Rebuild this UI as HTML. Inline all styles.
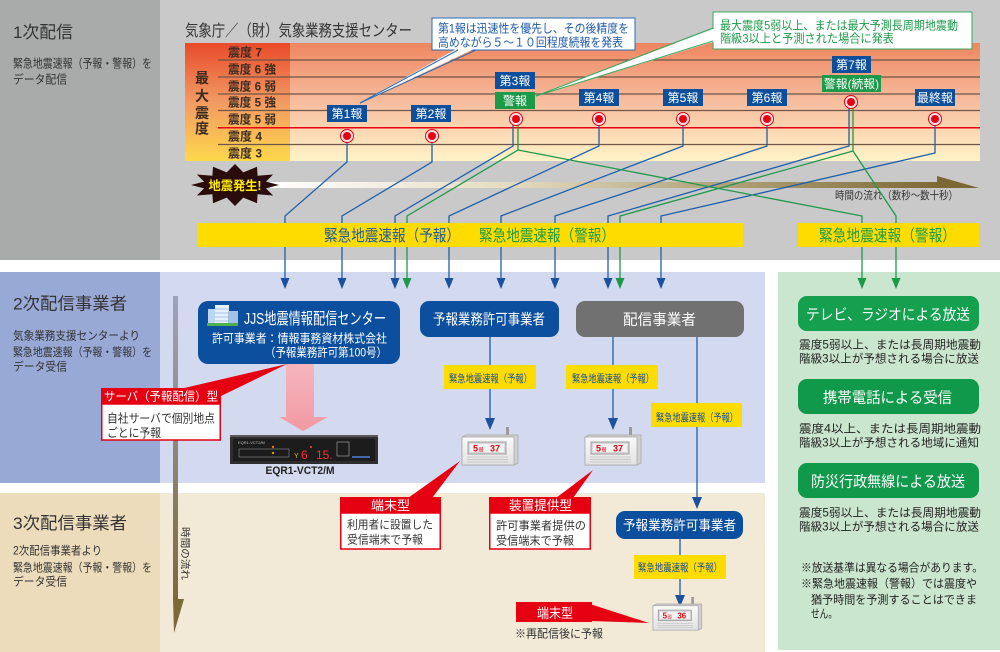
<!DOCTYPE html>
<html><head><meta charset="utf-8">
<style>
html,body{margin:0;padding:0;background:#fff;}
svg{display:block;font-family:"Liberation Sans","Noto Sans CJK JP",sans-serif;}
</style></head><body>
<svg width="1000" height="652" viewBox="0 0 1000 652" xmlns="http://www.w3.org/2000/svg">
<defs>
 <linearGradient id="chartR" x1="0" y1="0" x2="0" y2="1">
  <stop offset="0" stop-color="#ee8660"/>
  <stop offset="0.5" stop-color="#f7bd9e"/>
  <stop offset="1" stop-color="#fff3c8"/>
 </linearGradient>
 <linearGradient id="chartL" x1="0" y1="0" x2="0" y2="1">
  <stop offset="0" stop-color="#e84b2a"/>
  <stop offset="0.5" stop-color="#f39a62"/>
  <stop offset="1" stop-color="#fdd84c"/>
 </linearGradient>
 <linearGradient id="timeBar" x1="0" y1="0" x2="1" y2="0">
  <stop offset="0" stop-color="#ffffff"/>
  <stop offset="0.35" stop-color="#e6dcc2"/>
  <stop offset="1" stop-color="#7d6a35"/>
 </linearGradient>
 <linearGradient id="vTime" x1="0" y1="0" x2="0" y2="1">
  <stop offset="0" stop-color="#9ea3bb"/>
  <stop offset="1" stop-color="#7b6a38"/>
 </linearGradient>
 <linearGradient id="pink" x1="0" y1="0" x2="0" y2="1">
  <stop offset="0" stop-color="#f6b6bc"/>
  <stop offset="1" stop-color="#f199a3"/>
 </linearGradient>
 <linearGradient id="dev" x1="0" y1="0" x2="0" y2="1">
  <stop offset="0" stop-color="#fafafa"/>
  <stop offset="1" stop-color="#e2e2e2"/>
 </linearGradient>
</defs>

<!-- backgrounds -->
<rect x="0" y="0" width="1000" height="260" fill="#c9c9c9"/>
<rect x="0" y="0" width="160" height="260" fill="#a9aaaa"/>
<rect x="0" y="272" width="160" height="211" fill="#98a9d6"/>
<rect x="160" y="272" width="605" height="211" fill="#d3d9ee"/>
<rect x="0" y="493" width="160" height="159" fill="#ecdcbc"/>
<rect x="160" y="493" width="605" height="159" fill="#f2e9d6"/>
<rect x="778" y="272" width="222" height="378" fill="#cbe6cf"/>

<!-- section 1 left -->
<text x="13" y="38" font-size="17" fill="#333" textLength="60" lengthAdjust="spacingAndGlyphs">1次配信</text>
<text x="13" y="67.5" font-size="12" fill="#333" textLength="139" lengthAdjust="spacingAndGlyphs">緊急地震速報（予報・警報）を</text>
<text x="13" y="83.5" font-size="12" fill="#333" textLength="54" lengthAdjust="spacingAndGlyphs">データ配信</text>

<!-- title -->
<text x="185" y="36" font-size="16" fill="#333" textLength="227" lengthAdjust="spacingAndGlyphs">気象庁／（財）気象業務支援センター</text>

<!-- chart -->
<rect x="185" y="43" width="795" height="118" fill="url(#chartR)"/>
<rect x="185" y="43" width="105" height="118" fill="url(#chartL)"/>
<g stroke="#6e5649" stroke-width="1.2">
 <line x1="218" y1="60" x2="980" y2="60"/>
 <line x1="218" y1="77" x2="980" y2="77"/>
 <line x1="218" y1="94" x2="980" y2="94"/>
 <line x1="218" y1="110.5" x2="980" y2="110.5"/>
 <line x1="218" y1="144.5" x2="980" y2="144.5"/>
</g>
<line x1="218" y1="127.7" x2="980" y2="127.7" stroke="#e60012" stroke-width="1.5"/>
<g font-size="12" font-weight="bold" fill="#3b2c22">
 <text x="228" y="56.5" textLength="34" lengthAdjust="spacingAndGlyphs">震度 7</text>
 <text x="228" y="73.5" textLength="48" lengthAdjust="spacingAndGlyphs">震度 6 強</text>
 <text x="228" y="90.5" textLength="48" lengthAdjust="spacingAndGlyphs">震度 6 弱</text>
 <text x="228" y="106.5" textLength="48" lengthAdjust="spacingAndGlyphs">震度 5 強</text>
 <text x="228" y="123.5" textLength="48" lengthAdjust="spacingAndGlyphs">震度 5 弱</text>
 <text x="228" y="140.5" textLength="34" lengthAdjust="spacingAndGlyphs">震度 4</text>
 <text x="228" y="157.5" textLength="34" lengthAdjust="spacingAndGlyphs">震度 3</text>
</g>
<g font-size="14" font-weight="bold" fill="#3b2c22" text-anchor="middle">
 <text x="202" y="83">最</text>
 <text x="202" y="101">大</text>
 <text x="202" y="118">震</text>
 <text x="202" y="133.5">度</text>
</g>

<!-- bubbles -->
<rect x="432" y="18" width="203" height="32" fill="#fff" stroke="#2a6ab5" stroke-width="1"/>
<polygon points="458,48 476,48 360,103" fill="#fff"/>
<line x1="360" y1="103" x2="458" y2="50" stroke="#2a6ab5" stroke-width="1"/>
<line x1="360" y1="103" x2="476" y2="50" stroke="#2a6ab5" stroke-width="1"/>
<text x="438" y="32.5" font-size="12" fill="#1d5aa8" textLength="191" lengthAdjust="spacingAndGlyphs">第1報は迅速性を優先し、その後精度を</text>
<text x="438" y="46.5" font-size="12" fill="#1d5aa8" textLength="185" lengthAdjust="spacingAndGlyphs">高めながら５～１０回程度続報を発表</text>

<rect x="713" y="12" width="259" height="37" fill="#fff" stroke="#3aa860" stroke-width="1"/>
<polygon points="716,28 716,41 536,96" fill="#fff"/>
<line x1="536" y1="96" x2="713" y2="28" stroke="#3aa860" stroke-width="1"/>
<line x1="536" y1="96" x2="713" y2="41" stroke="#3aa860" stroke-width="1"/>
<text x="720" y="29.5" font-size="12" fill="#1e9a4a" textLength="238" lengthAdjust="spacingAndGlyphs">最大震度5弱以上、または最大予測長周期地震動</text>
<text x="720" y="42.5" font-size="12" fill="#1e9a4a" textLength="174" lengthAdjust="spacingAndGlyphs">階級3以上と予測された場合に発表</text>

<!-- time bar -->
<rect x="270" y="182" width="667" height="6" fill="url(#timeBar)"/>
<polygon points="937,176 979,188 937,188" fill="#7b6832"/>
<text x="835" y="199" font-size="11" fill="#333" textLength="123" lengthAdjust="spacingAndGlyphs">時間の流れ（数秒～数十秒）</text>

<!-- starburst -->
<polygon points="279,185 265.9,188.4 273.1,195.5 257.6,194.2 257,203.2 243.3,197.6 235,206 226.7,197.6 213,203.2 212.4,194.2 196.9,195.5 204.1,188.4 191,185 204.1,181.6 196.9,174.5 212.4,175.8 213,166.8 226.7,172.4 235,164 243.3,172.4 257,166.8 257.6,175.8 273.1,174.5 265.9,181.6" fill="#2a0c0c"/>
<text x="235" y="190" font-size="12.5" font-weight="bold" fill="#ffee00" text-anchor="middle" textLength="53" lengthAdjust="spacingAndGlyphs">地震発生!</text>

<!-- connectors -->
<g fill="none" stroke="#2060aa" stroke-width="1.3">
 <polyline points="347,136 347,162 285,216 285,280"/>
 <polyline points="432,136 432,162 342,216 342,280"/>
 <polyline points="513,119 513,146 395,216 395,280"/>
 <polyline points="599,119 599,146 449,216 449,280"/>
 <polyline points="683,119 683,146 501,216 501,280"/>
 <polyline points="767,119 767,146 555,216 555,280"/>
 <polyline points="849,102 849,146 608,216 608,280"/>
 <polyline points="935,119 935,153 661,216 661,280"/>
</g>
<g fill="none" stroke="#1e9a4a" stroke-width="1.3">
 <polyline points="518,119 518,150 407,216 407,280"/>
 <polyline points="518,150 862,216 862,280"/>
 <polyline points="853,102 853,151 620,216 620,280"/>
 <polyline points="853,151 896,216 896,280"/>
</g>

<!-- circles -->
<g>
 <circle cx="347" cy="136" r="6.5" fill="#fde3e3" stroke="#e60012" stroke-width="1"/><circle cx="347" cy="136" r="4" fill="#e60012"/>
 <circle cx="432" cy="136" r="6.5" fill="#fde3e3" stroke="#e60012" stroke-width="1"/><circle cx="432" cy="136" r="4" fill="#e60012"/>
 <circle cx="516" cy="119" r="6.5" fill="#fde3e3" stroke="#e60012" stroke-width="1"/><circle cx="516" cy="119" r="4" fill="#e60012"/>
 <circle cx="599" cy="119" r="6.5" fill="#fde3e3" stroke="#e60012" stroke-width="1"/><circle cx="599" cy="119" r="4" fill="#e60012"/>
 <circle cx="683" cy="119" r="6.5" fill="#fde3e3" stroke="#e60012" stroke-width="1"/><circle cx="683" cy="119" r="4" fill="#e60012"/>
 <circle cx="767" cy="119" r="6.5" fill="#fde3e3" stroke="#e60012" stroke-width="1"/><circle cx="767" cy="119" r="4" fill="#e60012"/>
 <circle cx="851" cy="102" r="6.5" fill="#fde3e3" stroke="#e60012" stroke-width="1"/><circle cx="851" cy="102" r="4" fill="#e60012"/>
 <circle cx="935" cy="119" r="6.5" fill="#fde3e3" stroke="#e60012" stroke-width="1"/><circle cx="935" cy="119" r="4" fill="#e60012"/>
</g>

<!-- report boxes -->
<g fill="#0e4f9c">
 <rect x="327" y="105" width="40" height="17"/>
 <rect x="411" y="105" width="40" height="17"/>
 <rect x="495" y="72" width="40" height="17"/>
 <rect x="579" y="89" width="40" height="17"/>
 <rect x="663" y="89" width="40" height="17"/>
 <rect x="747" y="89" width="40" height="17"/>
 <rect x="832" y="56" width="39" height="17"/>
 <rect x="915" y="89" width="40" height="17"/>
</g>
<rect x="495" y="92" width="40" height="17" fill="#1b9a48"/>
<rect x="822" y="75" width="59" height="17" fill="#1b9a48"/>
<g font-size="12" fill="#fff" text-anchor="middle">
 <text x="347" y="118">第1報</text>
 <text x="431" y="118">第2報</text>
 <text x="515" y="85">第3報</text>
 <text x="515" y="105">警報</text>
 <text x="599" y="102">第4報</text>
 <text x="683" y="102">第5報</text>
 <text x="767" y="102">第6報</text>
 <text x="851.5" y="69">第7報</text>
 <text x="851.5" y="88" textLength="55" lengthAdjust="spacingAndGlyphs">警報(続報)</text>
 <text x="935" y="102">最終報</text>
</g>

<!-- yellow bands -->
<rect x="197" y="223" width="546" height="24" fill="#ffdc00"/>
<rect x="798" y="223" width="181" height="24" fill="#ffdc00"/>
<text x="324" y="241" font-size="16" fill="#1f5aa6" textLength="136" lengthAdjust="spacingAndGlyphs">緊急地震速報（予報）</text>
<text x="479" y="241" font-size="16" fill="#1f9a48" textLength="136" lengthAdjust="spacingAndGlyphs">緊急地震速報（警報）</text>
<text x="819" y="241" font-size="16" fill="#1f9a48" textLength="137" lengthAdjust="spacingAndGlyphs">緊急地震速報（警報）</text>

<!-- arrowheads into section 2 -->
<g fill="#1a52a0">
 <polygon points="280.5,278 289.5,278 285,289"/>
 <polygon points="337.5,278 346.5,278 342,289"/>
 <polygon points="390.5,278 399.5,278 395,289"/>
 <polygon points="444.5,278 453.5,278 449,289"/>
 <polygon points="496.5,278 505.5,278 501,289"/>
 <polygon points="550.5,278 559.5,278 555,289"/>
 <polygon points="603.5,278 612.5,278 608,289"/>
 <polygon points="656.5,278 665.5,278 661,289"/>
</g>
<g fill="#1a9a48">
 <polygon points="402.5,278 411.5,278 407,289"/>
 <polygon points="615.5,278 624.5,278 620,289"/>
 <polygon points="857.5,278 866.5,278 862,289"/>
 <polygon points="891.5,278 900.5,278 896,289"/>
</g>

<!-- section 2 left -->
<text x="13" y="309.5" font-size="17" fill="#333" textLength="114" lengthAdjust="spacingAndGlyphs">2次配信事業者</text>
<text x="13" y="339.3" font-size="11.5" fill="#333" textLength="127" lengthAdjust="spacingAndGlyphs">気象業務支援センターより</text>
<text x="13" y="356" font-size="11.5" fill="#333" textLength="139" lengthAdjust="spacingAndGlyphs">緊急地震速報（予報・警報）を</text>
<text x="13" y="370.3" font-size="11.5" fill="#333" textLength="54" lengthAdjust="spacingAndGlyphs">データ受信</text>

<!-- section 3 left -->
<text x="13" y="529" font-size="17" fill="#333" textLength="114" lengthAdjust="spacingAndGlyphs">3次配信事業者</text>
<text x="13" y="554.3" font-size="11.5" fill="#333" textLength="89" lengthAdjust="spacingAndGlyphs">2次配信事業者より</text>
<text x="13" y="571.3" font-size="11.5" fill="#333" textLength="139" lengthAdjust="spacingAndGlyphs">緊急地震速報（予報・警報）を</text>
<text x="13" y="585.3" font-size="11.5" fill="#333" textLength="54" lengthAdjust="spacingAndGlyphs">データ受信</text>

<!-- vertical time arrow -->
<rect x="173" y="296" width="5" height="304" fill="url(#vTime)"/>
<polygon points="173,599 184,599 174,633" fill="#7b6a38"/>
<text transform="translate(181.5,527) rotate(90)" font-size="10" fill="#333" textLength="53" lengthAdjust="spacingAndGlyphs">時間の流れ</text>

<!-- JJS box -->
<rect x="198" y="301" width="202" height="63" rx="10" fill="#0b4f9e"/>
<rect x="208" y="309" width="12" height="15" fill="#bcd6ef"/>
<rect x="215" y="305" width="14" height="19" fill="#e6f0fa"/>
<rect x="228" y="311" width="10" height="13" fill="#9fc2e6"/>
<g stroke="#7fa6d0" stroke-width="0.6"><line x1="215" y1="309" x2="229" y2="309"/><line x1="215" y1="313" x2="229" y2="313"/><line x1="215" y1="317" x2="229" y2="317"/><line x1="215" y1="321" x2="229" y2="321"/></g>
<rect x="207" y="323" width="31" height="3" fill="#4caf50"/>
<text x="244" y="324" font-size="16" fill="#fff" textLength="142" lengthAdjust="spacingAndGlyphs">JJS地震情報配信センター</text>
<text x="212" y="342.5" font-size="12" fill="#fff" textLength="175" lengthAdjust="spacingAndGlyphs">許可事業者：情報事務資材株式会社</text>
<text x="265" y="356.5" font-size="12" fill="#fff" textLength="122" lengthAdjust="spacingAndGlyphs">（予報業務許可第100号）</text>

<!-- pink arrow -->
<polygon points="286,364 314,364 314,417 328,417 303,431 279,417 286,417" fill="url(#pink)"/>

<!-- red wedge & server callout -->
<polygon points="287,364 180,389 221,396" fill="#e50012"/>
<rect x="101" y="388" width="120" height="16" fill="#e50012"/>
<text x="104" y="400.5" font-size="12" fill="#fff" textLength="114" lengthAdjust="spacingAndGlyphs">サーバ（予報配信）型</text>
<rect x="101.75" y="404" width="118.5" height="36" fill="#fff" stroke="#e50012" stroke-width="1.5"/>
<text x="107" y="422.5" font-size="12" fill="#333" textLength="108" lengthAdjust="spacingAndGlyphs">自社サーバで個別地点</text>
<text x="107" y="437" font-size="12" fill="#333" textLength="54" lengthAdjust="spacingAndGlyphs">ごとに予報</text>

<!-- EQR device -->
<rect x="230" y="435" width="148" height="29" fill="#2e2e2e"/>
<rect x="230" y="435" width="148" height="2" fill="#5a5a5a"/>
<rect x="233" y="439" width="142" height="22" fill="#1c1c1c"/>
<text x="238" y="444" font-size="4" fill="#bbb">EQR1-VCT2/M</text>
<rect x="239" y="449" width="50" height="8" fill="none" stroke="#8a8a8a" stroke-width="0.6"/>
<circle cx="273" cy="447" r="1.2" fill="#ff6a00"/>
<circle cx="273" cy="453" r="1.2" fill="#caa000"/>
<text x="294" y="458" font-size="7" fill="#d8c000">Y</text>
<text x="301" y="459" font-size="12" fill="#ff2d2d">6</text>
<circle cx="311" cy="447" r="1" fill="#ff4a2a"/>
<text x="316" y="459" font-size="12" fill="#ff2d2d">15.</text>
<rect x="337" y="442" width="12" height="14" fill="none" stroke="#9a9a9a" stroke-width="0.7"/>
<rect x="352" y="456" width="18" height="2" fill="#4466aa"/>
<text x="300" y="474" font-size="11" font-weight="bold" fill="#222" text-anchor="middle" textLength="69" lengthAdjust="spacingAndGlyphs">EQR1-VCT2/M</text>

<!-- middle boxes -->
<rect x="420" y="301" width="139" height="36" rx="9" fill="#0b4f9e"/>
<text x="433" y="324.5" font-size="14.5" fill="#fff" textLength="112" lengthAdjust="spacingAndGlyphs">予報業務許可事業者</text>
<rect x="576" y="301" width="168" height="36" rx="9" fill="#717171"/>
<text x="623" y="324.5" font-size="15" fill="#fff" textLength="73" lengthAdjust="spacingAndGlyphs">配信事業者</text>

<g stroke="#2060aa" stroke-width="1.3" fill="none">
 <line x1="490" y1="337" x2="490" y2="420"/>
 <line x1="613" y1="337" x2="613" y2="420"/>
 <line x1="697" y1="337" x2="697" y2="499"/>
 <line x1="680" y1="539" x2="680" y2="597"/>
</g>
<g fill="#1a52a0">
 <polygon points="485,418 495,418 490,430"/>
 <polygon points="608,418 618,418 613,430"/>
 <polygon points="692,497 702,497 697,509"/>
 <polygon points="675,595 685,595 680,607"/>
</g>

<!-- yellow small labels -->
<rect x="444" y="365" width="92" height="24" fill="#ffdc00"/>
<text x="449" y="382" font-size="10.5" fill="#1a4f9c" textLength="83" lengthAdjust="spacingAndGlyphs">緊急地震速報（予報）</text>
<rect x="566" y="365" width="92" height="24" fill="#ffdc00"/>
<text x="572" y="382" font-size="10.5" fill="#1a4f9c" textLength="82" lengthAdjust="spacingAndGlyphs">緊急地震速報（予報）</text>
<rect x="651" y="403" width="91" height="24" fill="#ffdc00"/>
<text x="656" y="421" font-size="10.5" fill="#1a4f9c" textLength="82" lengthAdjust="spacingAndGlyphs">緊急地震速報（予報）</text>
<rect x="634" y="555" width="92" height="24" fill="#ffdc00"/>
<text x="638" y="571" font-size="10.5" fill="#1a4f9c" textLength="84" lengthAdjust="spacingAndGlyphs">緊急地震速報（予報）</text>

<!-- terminal device 1 -->
<g transform="translate(462,435)">
 <rect x="44" y="-8" width="3" height="10" fill="#9a9a9a"/>
 <path d="M0,2 L4,0 L56,0 L56,28 L52,30 L0,30 Z" fill="#d0d0d0" stroke="#a8a8a8" stroke-width="0.8"/>
 <rect x="0" y="2" width="52" height="28" fill="url(#dev)" stroke="#a8a8a8" stroke-width="0.8"/>
 <rect x="6" y="7" width="38" height="12" fill="#d8d8d8" stroke="#8d8d8d" stroke-width="0.8"/>
 <rect x="8" y="9" width="34" height="8" fill="#f2f2f2"/>
 <text x="11" y="16.5" font-size="9" font-weight="bold" fill="#e60012">5</text>
 <text x="16.5" y="16.5" font-size="5" fill="#e60012">弱</text>
 <text x="28" y="16.5" font-size="9" font-weight="bold" fill="#e60012">37</text>
 <g stroke="#bdbdbd" stroke-width="0.7"><line x1="5" y1="22" x2="46" y2="22"/><line x1="5" y1="24.5" x2="46" y2="24.5"/><line x1="5" y1="27" x2="46" y2="27"/></g>
</g>
<!-- terminal device 2 -->
<g transform="translate(585,435)">
 <rect x="44" y="-8" width="3" height="10" fill="#9a9a9a"/>
 <path d="M0,2 L4,0 L56,0 L56,28 L52,30 L0,30 Z" fill="#d0d0d0" stroke="#a8a8a8" stroke-width="0.8"/>
 <rect x="0" y="2" width="52" height="28" fill="url(#dev)" stroke="#a8a8a8" stroke-width="0.8"/>
 <rect x="6" y="7" width="38" height="12" fill="#d8d8d8" stroke="#8d8d8d" stroke-width="0.8"/>
 <rect x="8" y="9" width="34" height="8" fill="#f2f2f2"/>
 <text x="11" y="16.5" font-size="9" font-weight="bold" fill="#e60012">5</text>
 <text x="16.5" y="16.5" font-size="5" fill="#e60012">弱</text>
 <text x="28" y="16.5" font-size="9" font-weight="bold" fill="#e60012">37</text>
 <g stroke="#bdbdbd" stroke-width="0.7"><line x1="5" y1="22" x2="46" y2="22"/><line x1="5" y1="24.5" x2="46" y2="24.5"/><line x1="5" y1="27" x2="46" y2="27"/></g>
</g>
<!-- terminal device 3 -->
<g transform="translate(653,604) scale(0.87)">
 <rect x="44" y="-8" width="3" height="10" fill="#9a9a9a"/>
 <path d="M0,2 L4,0 L56,0 L56,28 L52,30 L0,30 Z" fill="#d0d0d0" stroke="#a8a8a8" stroke-width="0.8"/>
 <rect x="0" y="2" width="52" height="28" fill="url(#dev)" stroke="#a8a8a8" stroke-width="0.8"/>
 <rect x="6" y="7" width="38" height="12" fill="#d8d8d8" stroke="#8d8d8d" stroke-width="0.8"/>
 <rect x="8" y="9" width="34" height="8" fill="#f2f2f2"/>
 <text x="11" y="16.5" font-size="9" font-weight="bold" fill="#e60012">5</text>
 <text x="16.5" y="16.5" font-size="5" fill="#e60012">弱</text>
 <text x="28" y="16.5" font-size="9" font-weight="bold" fill="#e60012">36</text>
 <g stroke="#bdbdbd" stroke-width="0.7"><line x1="5" y1="22" x2="46" y2="22"/><line x1="5" y1="24.5" x2="46" y2="24.5"/><line x1="5" y1="27" x2="46" y2="27"/></g>
</g>

<!-- red wedges to section 3 callouts -->
<polygon points="460,461 408,498 432,498" fill="#e50012"/>
<polygon points="593,470 556,498 573,498" fill="#e50012"/>

<!-- 端末型 callout -->
<rect x="340" y="497" width="101" height="16" fill="#e50012"/>
<text x="390.5" y="510" font-size="13" fill="#fff" text-anchor="middle">端末型</text>
<rect x="340.75" y="513" width="99.5" height="36" fill="#fff" stroke="#e50012" stroke-width="1.5"/>
<text x="347" y="528.3" font-size="11.5" fill="#333" textLength="86" lengthAdjust="spacingAndGlyphs">利用者に設置した</text>
<text x="347" y="543.3" font-size="11.5" fill="#333" textLength="76" lengthAdjust="spacingAndGlyphs">受信端末で予報</text>

<!-- 装置提供型 callout -->
<rect x="489" y="497" width="102" height="16" fill="#e50012"/>
<text x="509" y="510" font-size="13" fill="#fff" textLength="63" lengthAdjust="spacingAndGlyphs">装置提供型</text>
<rect x="489.75" y="513" width="100.5" height="36" fill="#fff" stroke="#e50012" stroke-width="1.5"/>
<text x="496" y="529.3" font-size="11.5" fill="#333" textLength="90" lengthAdjust="spacingAndGlyphs">許可事業者提供の</text>
<text x="496" y="544.3" font-size="11.5" fill="#333" textLength="78" lengthAdjust="spacingAndGlyphs">受信端末で予報</text>

<!-- section 3 blue box -->
<rect x="616" y="511" width="127" height="28" rx="9" fill="#0b4f9e"/>
<text x="623" y="530" font-size="13.5" fill="#fff" textLength="113" lengthAdjust="spacingAndGlyphs">予報業務許可事業者</text>

<!-- bottom 端末型 -->
<polygon points="590,604 590,621 649,623" fill="#e50012"/>
<rect x="516" y="602" width="76" height="20" fill="#e50012"/>
<text x="537" y="618" font-size="13.5" fill="#fff" textLength="36" lengthAdjust="spacingAndGlyphs">端末型</text>
<text x="515" y="637.5" font-size="11.5" fill="#333" textLength="88" lengthAdjust="spacingAndGlyphs">※再配信後に予報</text>

<!-- right panel -->
<rect x="798" y="296" width="181" height="35" rx="9" fill="#14a04f"/>
<text x="806" y="319.5" font-size="15" fill="#fff" textLength="164" lengthAdjust="spacingAndGlyphs">テレビ、ラジオによる放送</text>
<text x="799" y="348.3" font-size="11.5" fill="#222" textLength="182" lengthAdjust="spacingAndGlyphs">震度5弱以上、または長周期地震動</text>
<text x="799" y="362.3" font-size="11.5" fill="#222" textLength="180" lengthAdjust="spacingAndGlyphs">階級3以上が予想される場合に放送</text>

<rect x="798" y="379" width="181" height="35" rx="9" fill="#10994a"/>
<text x="823" y="402.5" font-size="15" fill="#fff" textLength="129" lengthAdjust="spacingAndGlyphs">携帯電話による受信</text>
<text x="799" y="432.3" font-size="11.5" fill="#222" textLength="182" lengthAdjust="spacingAndGlyphs">震度4以上、または長周期地震動</text>
<text x="799" y="446.3" font-size="11.5" fill="#222" textLength="180" lengthAdjust="spacingAndGlyphs">階級3以上が予想される地域に通知</text>

<rect x="798" y="463" width="181" height="35" rx="9" fill="#10994a"/>
<text x="811" y="486.5" font-size="15" fill="#fff" textLength="154" lengthAdjust="spacingAndGlyphs">防災行政無線による放送</text>
<text x="799" y="516.3" font-size="11.5" fill="#222" textLength="182" lengthAdjust="spacingAndGlyphs">震度5弱以上、または長周期地震動</text>
<text x="799" y="530.3" font-size="11.5" fill="#222" textLength="180" lengthAdjust="spacingAndGlyphs">階級3以上が予想される場合に放送</text>

<text x="801" y="571.3" font-size="11.5" fill="#222" textLength="182" lengthAdjust="spacingAndGlyphs">※放送基準は異なる場合があります。</text>
<text x="801" y="587.3" font-size="11.5" fill="#222" textLength="176" lengthAdjust="spacingAndGlyphs">※緊急地震速報（警報）では震度や</text>
<text x="811" y="603.3" font-size="11.5" fill="#222" textLength="166" lengthAdjust="spacingAndGlyphs">猶予時間を予測することはできま</text>
<text x="811" y="617.3" font-size="11.5" fill="#222" textLength="26" lengthAdjust="spacingAndGlyphs">せん。</text>
</svg>
</body></html>
